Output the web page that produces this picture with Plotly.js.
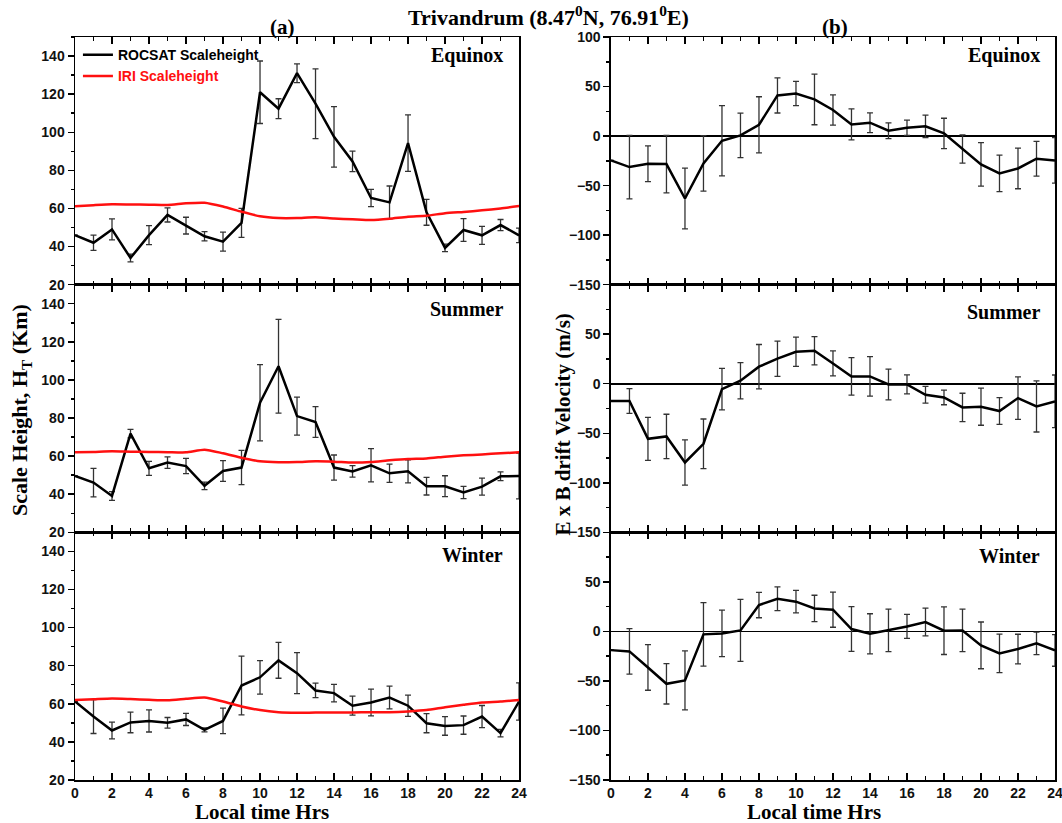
<!DOCTYPE html>
<html>
<head>
<meta charset="utf-8">
<script src="https://cdn.plot.ly/plotly-3.0.1.min.js"></script>
<style>
  body { margin: 0; background: #fff; }
  #chart { width: 1062px; height: 823px; }
</style>
</head>
<body>
<div id="chart"></div>
<script>
// local time (hours)
var hours = [0, 1, 2, 3, 4, 5, 6, 7, 8, 9, 10, 11, 12, 13, 14, 15, 16, 17, 18, 19, 20, 21, 22, 23, 24];

// (a) scale height, km
var rocEqu    = [46, 42, 49, 34, 46, 56.6, 51, 45.4, 42.6, 52.4, 121, 112.4, 131, 115, 97.6, 84.7, 65.5, 63.2, 94.3, 58, 39.3, 48.7, 45.9, 51.3, 45.9];
var rocEquErr = [0, 4, 5.5, 2, 5, 3.7, 4.4, 2.4, 5, 7.6, 16.4, 5.2, 4.9, 18.3, 15.9, 5.4, 4.5, 8.6, 14.8, 6.8, 2, 6, 4.7, 2.9, 3.8];
var iriEqu    = [61.1, 61.7, 62.2, 62.1, 62, 61.8, 62.7, 63, 61, 58.3, 55.9, 55, 55, 55.4, 54.7, 54.3, 53.9, 54.6, 55.7, 56.2, 57.5, 58.2, 59, 60, 61.3];

var rocSum    = [49.6, 46.1, 39.1, 71.8, 53.6, 56.6, 54.8, 44.4, 52.2, 54, 88, 107.2, 81, 77.9, 54, 52, 55.2, 51, 52, 44.2, 44.2, 40.9, 44, 49.4, 49.6];
var rocSumErr = [0, 7.5, 2.3, 2.2, 3.7, 3, 4, 2, 5.4, 9, 20, 24.6, 10, 8.1, 6.6, 3, 8.7, 4.8, 6, 4.6, 5.5, 3.2, 4.5, 2.3, 12];
var iriSum    = [62, 62.2, 62.5, 62.3, 62.2, 62.1, 62, 63.4, 61.5, 59.2, 57.3, 56.8, 56.9, 57.3, 57.1, 56.6, 56.9, 57.8, 58.5, 58.8, 59.7, 60.4, 60.9, 61.5, 62];

var rocWin    = [61.2, 53.3, 46, 50.2, 51, 50, 51.8, 46.3, 51, 69.6, 73.9, 82.8, 76.1, 67, 65.6, 59, 60.7, 63.3, 59, 49.8, 48.4, 48.8, 53.3, 44.6, 61.2];
var rocWinErr = [0, 8.9, 4.4, 5.4, 5.8, 2.8, 3.2, 1, 6.7, 15.4, 8.8, 9.4, 10.8, 3.8, 4.6, 5, 7, 6, 5.6, 5, 4.9, 4.8, 5.8, 2, 9.8];
var iriWin    = [62, 62.4, 62.8, 62.5, 62.1, 61.8, 62.6, 63.3, 61.2, 58.6, 56.7, 55.6, 55.3, 55.4, 55.4, 55.4, 55.6, 55.6, 56, 56.7, 58.2, 59.5, 60.7, 61.2, 62];

// (b) E x B drift velocity, m/s
var driftEqu    = [-24.6, -31.3, -28, -28.3, -63, -27.6, -4.7, 0.7, 11.4, 41, 43, 37, 26.3, 11.8, 13.5, 5.4, 8.4, 9.8, 2.7, -13, -28.6, -37.7, -32.7, -22.9, -24.6];
var driftEquErr = [0, 32, 18, 29, 30.6, 28, 35.5, 22.4, 28.3, 17.7, 12.3, 25.6, 15.3, 15.7, 10, 8, 7.7, 11.3, 15.3, 14.3, 22, 18.4, 20.5, 17.5, 23];

var driftSum    = [-17.5, -17.5, -55.6, -53.2, -79.5, -60.6, -5.4, 3, 17.2, 25.3, 32.3, 33.3, 20.5, 7.4, 7.4, -0.7, -0.7, -11.1, -13.8, -23.9, -23.2, -27.6, -14.5, -22.9, -17.8];
var driftSumErr = [0, 12.5, 21.7, 22.4, 22.9, 25, 21, 18.3, 22.4, 17.8, 14.8, 14.3, 12.6, 18.9, 20, 15.5, 9.6, 8.4, 7.4, 14.3, 18.7, 13.5, 21.5, 25.8, 26.6];

var driftWin    = [-18.9, -20.2, -36.4, -52.9, -49.5, -3, -2, 1, 26.6, 33, 30, 23.2, 21.9, 2.4, -2.4, 1, 5, 9.4, 0.7, 1, -14.1, -22.2, -17.8, -12.1, -19.2];
var driftWinErr = [0, 22.9, 23, 20.4, 29.8, 32, 23.4, 31.3, 12.8, 12, 11.4, 13.3, 17.7, 22.6, 20.2, 21.5, 12.1, 14, 24, 21.4, 23.6, 19.4, 14.9, 11.4, 16];

var seasons = ['Equinox', 'Summer', 'Winter'];
var hTicks = [20, 40, 60, 80, 100, 120, 140];
var vTicks = [-150, -100, -50, 0, 50, 100];

var serif = 'Liberation Serif, Times New Roman, serif';
var sans = 'Liberation Sans, Arial, sans-serif';
var tickFont = {family: sans, size: 14, color: '#111', weight: 'bold'};

function errBar(arr) {
  return {type: 'data', array: arr, visible: true, color: '#333', thickness: 1.3, width: 3};
}

function rocTrace(y, err, n, legend) {
  return {
    x: hours, y: y, error_y: errBar(err),
    xaxis: 'x' + n, yaxis: 'y' + n,
    type: 'scatter', mode: 'lines',
    line: {color: '#000', width: 2.5},
    name: 'ROCSAT Scaleheight', showlegend: legend, legendrank: 1
  };
}
function iriTrace(y, n, legend) {
  return {
    x: hours, y: y,
    xaxis: 'x' + n, yaxis: 'y' + n,
    type: 'scatter', mode: 'lines',
    line: {color: '#ff1010', width: 2.5, shape: 'spline', smoothing: 0.6},
    name: '<span style="color:#ff1010">IRI Scaleheight</span>', showlegend: legend, legendrank: 2
  };
}
function driftTrace(y, err, n) {
  return {
    x: hours, y: y, error_y: errBar(err),
    xaxis: 'x' + n, yaxis: 'y' + n,
    type: 'scatter', mode: 'lines',
    line: {color: '#000', width: 2.5},
    showlegend: false
  };
}

var data = [
  rocTrace(rocEqu, rocEquErr, 1, true), iriTrace(iriEqu, 1, true),
  rocTrace(rocSum, rocSumErr, 2, false), iriTrace(iriSum, 2, false),
  rocTrace(rocWin, rocWinErr, 3, false), iriTrace(iriWin, 3, false),
  driftTrace(driftEqu, driftEquErr, 4),
  driftTrace(driftSum, driftSumErr, 5),
  driftTrace(driftWin, driftWinErr, 6)
];

var leftDom = [0, 0.4531];
var rightDom = [0.5469, 1];
var rows = [[2 / 3, 1], [1 / 3, 2 / 3], [0, 1 / 3]];

function xAxis(n, dom, bottom) {
  return {
    domain: dom, anchor: 'y' + n, range: [0, 24],
    tickmode: 'linear', tick0: 0, dtick: 2,
    ticks: 'inside', ticklen: 7, tickwidth: 1.5, tickcolor: '#000',
    minor: {tickmode: 'linear', tick0: 0, dtick: 1, ticks: 'inside', ticklen: 4, tickwidth: 1.2, tickcolor: '#000'},
    showline: true, linecolor: '#000', linewidth: 1.5, mirror: 'allticks',
    showgrid: false, zeroline: false,
    showticklabels: bottom, tickfont: tickFont, ticklabeloverflow: 'allow'
  };
}
function yLeft(n, dom) {
  return {
    domain: dom, anchor: 'x' + n, range: [20, 150],
    tickmode: 'array', tickvals: hTicks,
    ticks: 'outside', ticklen: 6, tickwidth: 1.5, tickcolor: '#000',
    minor: {tickmode: 'linear', tick0: 0, dtick: 10, ticks: 'outside', ticklen: 3, tickcolor: '#000'},
    showline: true, linecolor: '#000', linewidth: 1.5, mirror: true,
    showgrid: false, zeroline: false, tickfont: tickFont
  };
}
function yRight(n, dom, top) {
  return {
    domain: dom, anchor: 'x' + n, range: [-150, 100],
    tickmode: 'array', tickvals: top ? vTicks : vTicks.slice(0, 5),
    ticks: 'outside', ticklen: 6, tickwidth: 1.5, tickcolor: '#000',
    minor: {tickmode: 'linear', tick0: 0, dtick: 25, ticks: 'outside', ticklen: 3, tickcolor: '#000'},
    showline: true, linecolor: '#000', linewidth: 1.5, mirror: true,
    showgrid: false, zeroline: true, zerolinecolor: '#000', zerolinewidth: 1.6,
    tickfont: tickFont
  };
}

function note(text, x, y, size, extra) {
  var a = {text: text, xref: 'paper', yref: 'paper', x: x, y: y, xanchor: 'center', yanchor: 'middle',
    showarrow: false, font: {family: serif, size: size, color: '#000'}};
  for (var k in extra) a[k] = extra[k];
  return a;
}

var annotations = [
  note('<b>Trivandrum (8.47<sup>0</sup>N, 76.91<sup>0</sup>E)</b>', 0.483, 1.028, 22),
  note('<b>(a)</b>', 0.212, 1.013, 21),
  note('<b>(b)</b>', 0.776, 1.013, 21),
  note('<b>Scale Height, H<sub>T</sub> (Km)</b>', -0.055, 0.498, 22, {textangle: -90}),
  note('<b>E x B drift Velocity (m/s)</b>', 0.4975, 0.478, 21, {textangle: -90}),
  note('<b>Local time Hrs</b>', 0.1908, -0.043, 21),
  note('<b>Local time Hrs</b>', 0.754, -0.043, 21)
];
var seasonY = [[0.927, 0.927], [0.90, 0.89], [0.907, 0.903]];
seasons.forEach(function (s, i) {
  annotations.push({text: '<b>' + s + '</b>', xref: 'x' + (i + 1) + ' domain', yref: 'y' + (i + 1) + ' domain',
    x: 0.968, y: seasonY[i][0], xanchor: 'right', yanchor: 'middle', showarrow: false, font: {family: serif, size: 20, color: '#000'}});
  annotations.push({text: '<b>' + s + '</b>', xref: 'x' + (i + 4) + ' domain', yref: 'y' + (i + 4) + ' domain',
    x: 0.971, y: seasonY[i][1], xanchor: 'right', yanchor: 'middle', showarrow: false, font: {family: serif, size: 20, color: '#000'}});
});

var layout = {
  width: 1062, height: 823,
  margin: {l: 75, r: 7, t: 37, b: 43},
  paper_bgcolor: '#fff', plot_bgcolor: '#fff',
  showlegend: true,
  legend: {x: 0.003, y: 0.997, xanchor: 'left', yanchor: 'top', bgcolor: 'rgba(0,0,0,0)',
    font: {family: sans, size: 14, color: '#000', weight: 'bold'}, tracegroupgap: 0, itemwidth: 30},
  annotations: annotations
};
for (var i = 0; i < 3; i++) {
  layout['xaxis' + (i + 1)] = xAxis(i + 1, leftDom, i === 2);
  layout['yaxis' + (i + 1)] = yLeft(i + 1, rows[i]);
  layout['xaxis' + (i + 4)] = xAxis(i + 4, rightDom, i === 2);
  layout['yaxis' + (i + 4)] = yRight(i + 4, rows[i], i === 0);
}

Plotly.newPlot('chart', data, layout, {displayModeBar: false, staticPlot: true});
</script>
</body>
</html>
